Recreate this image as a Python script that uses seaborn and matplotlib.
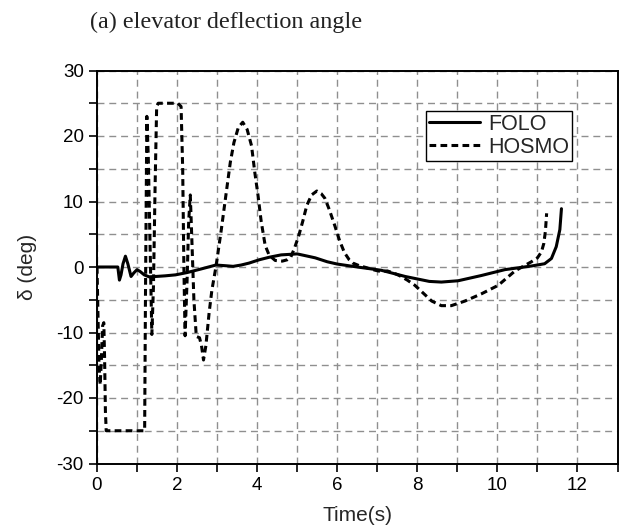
import numpy as np
import pandas as pd
import matplotlib
matplotlib.use("Agg")
import matplotlib.pyplot as plt
from matplotlib.ticker import MultipleLocator
import seaborn as sns

# FOLO elevator deflection (time in s, angle in deg)
folo_t = [0, 0.52, 0.56, 0.6, 0.65, 0.71, 0.77, 0.85, 0.92, 1.0, 1.08, 1.18, 1.3,
          1.46, 1.7, 1.96, 2.25, 2.6, 2.97, 3.2, 3.4, 3.6, 3.8, 4.05, 4.31, 4.6,
          5.0, 5.45, 5.75, 6.0, 6.5, 7.1, 7.7, 8.3, 8.6, 9.02, 9.6, 10.19, 10.85,
          11.18, 11.35, 11.47, 11.56, 11.6]
folo_d = [0, 0, -2.0, -1.2, 0.5, 1.65, 0.5, -1.45, -0.9, -0.4, -0.7, -1.2, -1.5,
          -1.45, -1.35, -1.2, -0.85, -0.3, 0.3, 0.2, 0.1, 0.3, 0.6, 1.1, 1.5, 1.85,
          2.0, 1.4, 0.8, 0.45, 0.0, -0.5, -1.45, -2.2, -2.3, -2.1, -1.3, -0.4, 0.15,
          0.5, 1.3, 3.1, 5.7, 8.9]

# HOSMO elevator deflection (time in s, angle in deg)
hosmo_t = [0, 0.02, 0.05, 0.08, 0.11, 0.14, 0.17, 0.19, 0.21, 0.23, 1.19, 1.21,
           1.245, 1.28, 1.32, 1.37, 1.41, 1.45, 1.49, 1.53, 2.02, 2.1, 2.14, 2.17,
           2.2, 2.25, 2.29, 2.33, 2.37, 2.42, 2.48, 2.56, 2.61, 2.66, 2.72, 2.8,
           2.87, 2.97, 3.1, 3.22, 3.33, 3.42, 3.53, 3.64, 3.75, 3.86, 3.94, 4.02,
           4.1, 4.2, 4.3, 4.45, 4.63, 4.75, 4.84, 4.94, 5.04, 5.14, 5.24, 5.36,
           5.49, 5.6, 5.69, 5.8, 5.94, 6.06, 6.18, 6.3, 6.39, 6.55, 6.76, 6.95,
           7.1, 7.25, 7.4, 7.55, 7.75, 7.94, 8.15, 8.36, 8.6, 8.85, 9.19, 9.6,
           10.02, 10.44, 10.85, 11.0, 11.1, 11.16, 11.2, 11.23]
hosmo_d = [0, -6, -15, -18, -14, -9, -8.5, -14, -22, -25, -25, -5,
           23, 17, 5, -10.3, -3, 12, 24.5, 25, 25, 24.5, 15, 0,
           -10.5, -2, 7, 11, 4, -5, -10.6, -10.8, -12, -14.2, -12, -7,
           -3.5, 0, 5.5, 11, 16, 19, 21.3, 22.1, 21, 18.5, 14.5, 11,
           7, 3.3, 1.8, 1.0, 0.9, 1.1, 1.5, 3, 4.8, 7, 9.4, 11,
           11.6, 11.2, 10.5, 8.8, 6.3, 4.0, 2.2, 1.1, 0.6, 0.2, -0.15, -0.5,
           -0.7, -0.6, -0.9, -1.3, -2.0, -2.8, -4.0, -5.2, -5.9, -5.9, -5.2, -4.1,
           -2.8, -0.6, 0.8, 1.4, 2.3, 3.6, 5.5, 8.2]

series_names = ["FOLO", "HOSMO"]
x_ticks = [0, 2, 4, 6, 8, 10, 12]
y_ticks = [-30, -20, -10, 0, 10, 20, 30]

df = pd.concat([
    pd.DataFrame({"t": folo_t, "delta": folo_d, "method": series_names[0]}),
    pd.DataFrame({"t": hosmo_t, "delta": hosmo_d, "method": series_names[1]}),
], ignore_index=True)

sns.set_style("ticks")
plt.rcParams["font.family"] = ["Liberation Sans", "DejaVu Sans"]
plt.rcParams["axes.unicode_minus"] = False

fig = plt.figure(figsize=(6.19, 5.28), dpi=100)
ax = fig.add_axes([97 / 619, 1 - 463.5 / 528, 520.5 / 619, 393 / 528])

sns.lineplot(data=df, x="t", y="delta", hue="method", style="method",
             palette={"FOLO": "black", "HOSMO": "black"},
             dashes={"FOLO": "", "HOSMO": (2.2, 1.4)},
             estimator=None, sort=False, linewidth=2.2, ax=ax, zorder=3)

ax.set_xlim(0, 13)
ax.set_ylim(-30, 30)
ax.set_xticks(x_ticks)
ax.set_yticks(y_ticks)
ax.xaxis.set_minor_locator(MultipleLocator(1))
ax.yaxis.set_minor_locator(MultipleLocator(5))
ax.tick_params(which="both", direction="out", length=6, width=1.2,
               colors="black", labelsize=13.5, top=False, right=False)
ax.grid(which="both", color="#8f8f8f", linestyle=(0, (5, 3.5)), linewidth=1.0)
ax.set_axisbelow(True)
for s in ax.spines.values():
    s.set_visible(True)
    s.set_color("black")
    s.set_linewidth(1.4)

ax.set_xlabel("Time(s)", fontsize=15, labelpad=9)
ax.set_ylabel("δ (deg)", fontsize=15, labelpad=14)

leg = ax.legend(loc="upper right", bbox_to_anchor=(0.9135, 0.898), fontsize=15.5,
                frameon=True, fancybox=False, framealpha=1, edgecolor="black",
                handlelength=2.35, borderpad=0.15, labelspacing=0.08,
                handletextpad=0.4, borderaxespad=0)
leg.get_frame().set_linewidth(1.0)
leg.set_title(None)

fig.text(90 / 619, 1 - 22 / 528, "(a) elevator deflection angle",
         fontsize=17.4, family=["Liberation Serif", "DejaVu Serif"],
         ha="left", va="center", color="#222222")

fig.savefig("out.png", dpi=100)
